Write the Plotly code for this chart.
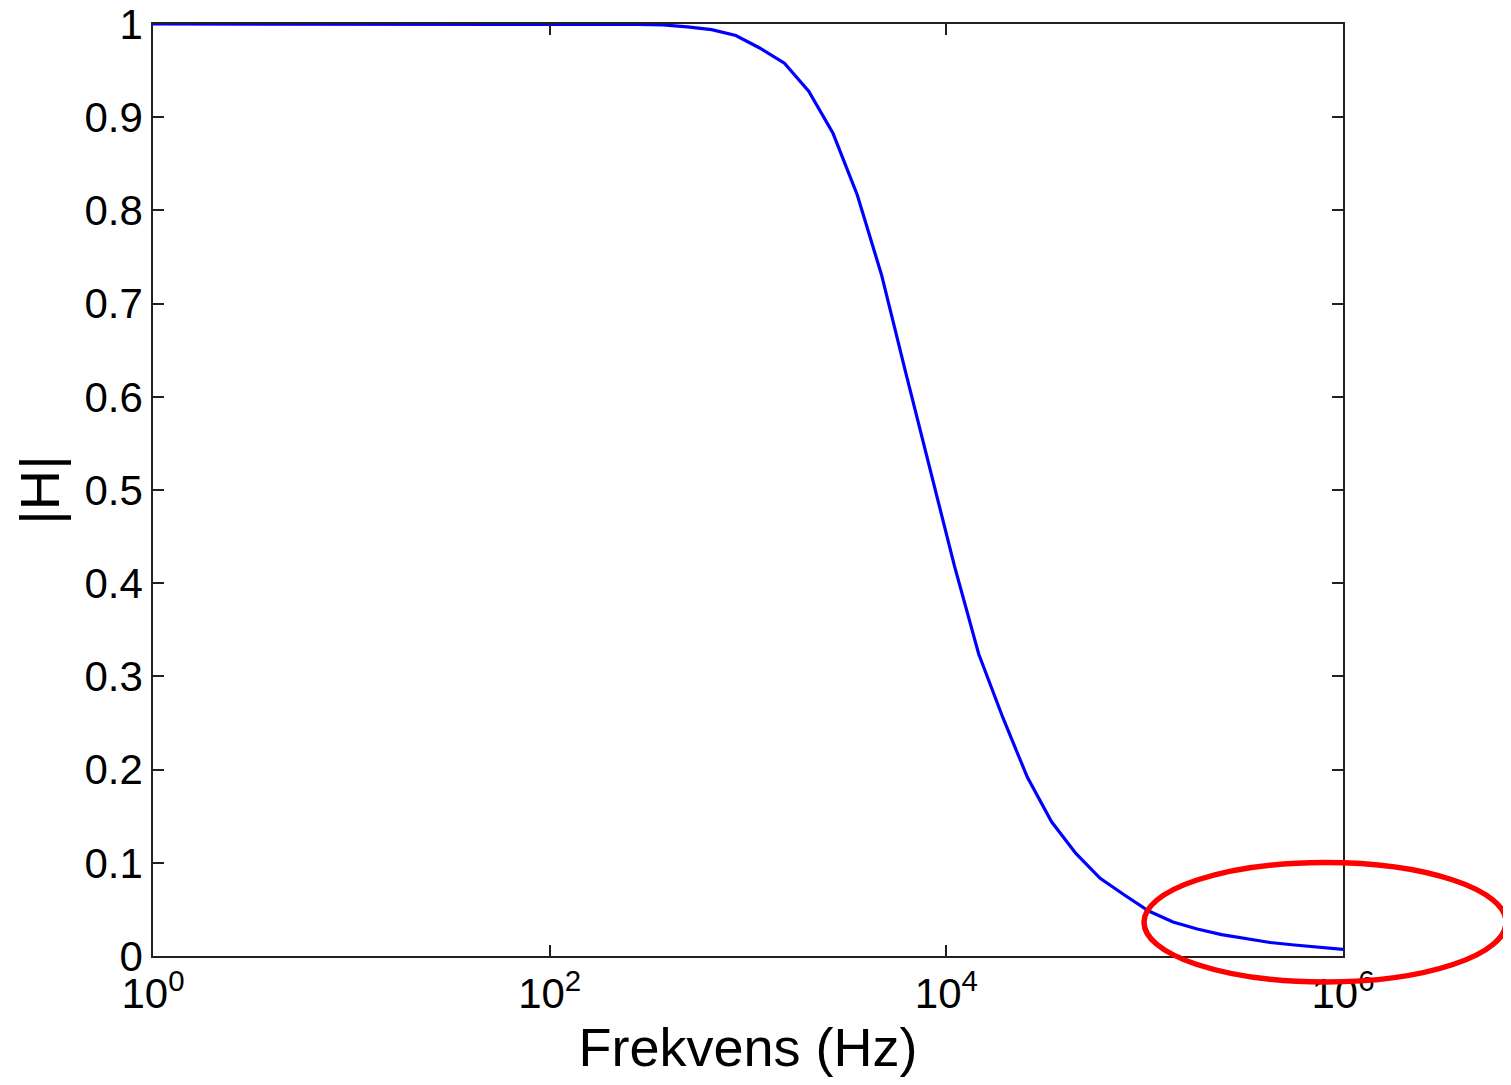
import plotly.graph_objects as go

# Frequency samples (Hz)
freq_hz = [1, 1.3257, 1.7575, 2.3300, 3.0888, 4.0949, 5.4287, 7.1969, 9.5410,
           12.649, 16.768, 22.230, 29.471, 39.069, 51.795, 68.665, 91.030,
           120.68, 159.99, 212.09, 281.17, 372.76, 494.17, 655.13, 868.51,
           1151.4, 1526.4, 2023.6, 2682.7, 3556.5, 4714.9, 6250.6, 8286.4,
           10985, 14563, 19307, 25595, 33932, 44984, 59636, 79060, 104810,
           138950, 184210, 244210, 323750, 429190, 568990, 754310, 1000000]

# |H| magnitude
mag_h = [1.0, 1.0, 1.0, 1.0, 1.0, 1.0, 1.0, 1.0, 1.0, 1.0,
         1.0, 1.0, 1.0, 1.0, 1.0, 1.0, 1.0, 1.0, 1.0, 1.0,
         0.9995, 0.999, 0.997, 0.994, 0.9877, 0.974, 0.958, 0.928, 0.8827, 0.8165,
         0.7307, 0.6255, 0.5215, 0.4185, 0.324, 0.2554, 0.192, 0.144, 0.110, 0.0834,
         0.0655, 0.0483, 0.0365, 0.029, 0.023, 0.0188, 0.0145, 0.0118, 0.0093, 0.0072]

x_tickvals = [1, 100, 10000, 1000000]
x_ticktext = ["10<sup>0</sup>", "10<sup>2</sup>", "10<sup>4</sup>", "10<sup>6</sup>"]
y_tickvals = [0, 0.1, 0.2, 0.3, 0.4, 0.5, 0.6, 0.7, 0.8, 0.9, 1]
y_ticktext = ["0", "0.1", "0.2", "0.3", "0.4", "0.5", "0.6", "0.7", "0.8", "0.9", "1"]

FONT = "Liberation Sans, Arial, sans-serif"

# page body has an 8px margin; plot area on screen: x 153..1343, y 24..956
OFF = 8
L, R, T, B = 153 - OFF, 1343 - OFF, 24 - OFF, 956 - OFF
W, H = 1511, 1085

fig = go.Figure()
fig.add_trace(go.Scatter(x=freq_hz, y=mag_h, mode="lines",
                         line=dict(color="#0000ff", width=3.2),
                         showlegend=False, hoverinfo="skip"))

axis_common = dict(showgrid=False, zeroline=False, showline=True, linecolor="#202020",
                   linewidth=1.5, mirror="ticks", ticks="inside", ticklen=11,
                   tickwidth=1.5, tickcolor="#202020", ticklabeloverflow="allow",
                   tickfont=dict(family=FONT, size=42, color="black"))

fig.update_layout(
    width=W, height=H,
    margin=dict(l=L, r=W - R, t=T, b=H - B, autoexpand=False),
    paper_bgcolor="white", plot_bgcolor="white",
    font=dict(family=FONT, color="black"),
    xaxis=dict(type="log", range=[0, 6], tickmode="array", tickvals=x_tickvals,
               ticktext=x_ticktext,
               title=dict(text="Frekvens (Hz)", font=dict(family=FONT, size=54), standoff=10),
               **axis_common),
    yaxis=dict(range=[0, 1], tickmode="array", tickvals=y_tickvals, ticktext=y_ticktext,
               title=dict(text="|H|", font=dict(family=FONT, size=56), standoff=10),
               **axis_common),
    shapes=[dict(type="circle", xref="paper", yref="paper",
                 x0=(1144 - 153) / 1190, x1=(1506 - 153) / 1190,
                 y0=(956 - 982) / 932, y1=(956 - 862.5) / 932,
                 line=dict(color="#ff0000", width=5.5), layer="above")],
)

fig.write_html("out.html")
